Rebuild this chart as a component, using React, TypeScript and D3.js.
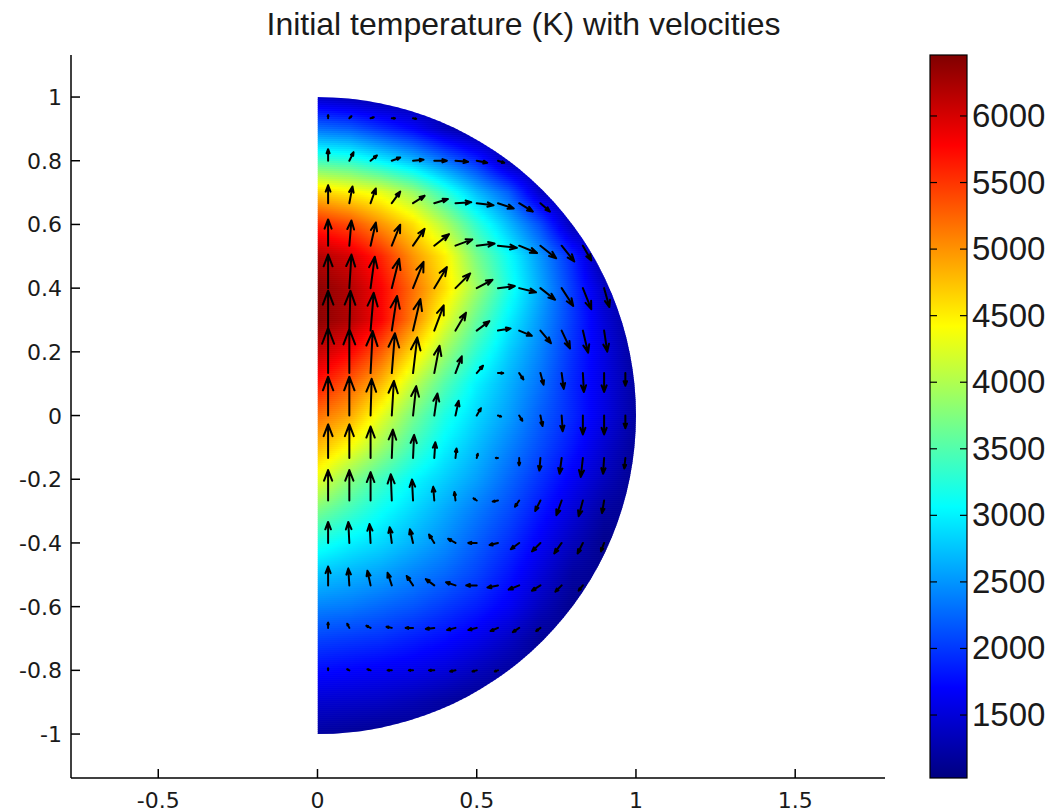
import React from 'react';
import * as d3 from 'd3';

const W = 1063;
const H = 812;

const titleText = 'Initial temperature (K) with velocities';
const xTicks = [-0.5, 0, 0.5, 1, 1.5];
const yTicks = [-1, -0.8, -0.6, -0.4, -0.2, 0, 0.2, 0.4, 0.6, 0.8, 1];
const cbTicks = [1500, 2000, 2500, 3000, 3500, 4000, 4500, 5000, 5500, 6000];
const colorLimits = [1027, 6458];

// Temperature (K) sampled on a cartesian grid (columns: x, rows: y)
const gridX = [0, 0.1, 0.2, 0.3, 0.4, 0.5, 0.6, 0.7, 0.8, 0.9, 1.0];
const gridY = [1.0, 0.9, 0.8, 0.7, 0.6, 0.5, 0.4, 0.3, 0.2, 0.1, 0.0, -0.1, -0.2, -0.3, -0.4, -0.5, -0.6, -0.7, -0.8, -0.9, -1.0];
const temperature = [
  [1400, 1300, 1200, 1150, 1100, 1100, 1100, 1100, 1100, 1100, 1100],
  [2300, 2200, 1950, 1700, 1350, 1100, 1100, 1100, 1100, 1100, 1100],
  [3400, 3300, 3000, 2700, 2300, 1900, 1300, 1100, 1100, 1100, 1100],
  [4700, 4500, 4300, 3900, 3300, 2700, 2200, 1400, 1100, 1100, 1100],
  [5600, 5400, 5000, 4600, 4000, 3300, 2700, 2100, 1300, 1100, 1100],
  [6200, 6000, 5600, 5000, 4500, 3700, 3100, 2500, 1900, 1150, 1100],
  [6400, 6200, 5800, 5200, 4600, 3900, 3200, 2600, 2000, 1400, 1100],
  [6400, 6200, 5800, 5100, 4300, 3600, 3000, 2500, 2000, 1500, 1100],
  [6100, 5800, 5300, 4600, 3900, 3300, 2800, 2400, 1950, 1550, 1150],
  [5700, 5300, 4800, 4100, 3500, 3000, 2650, 2300, 1900, 1550, 1200],
  [5200, 4900, 4300, 3700, 3200, 2850, 2550, 2200, 1900, 1550, 1200],
  [4800, 4400, 3900, 3400, 3000, 2700, 2400, 2100, 1800, 1450, 1150],
  [4300, 3800, 3400, 3050, 2800, 2550, 2250, 1950, 1650, 1350, 1100],
  [3700, 3400, 3100, 2850, 2600, 2350, 2100, 1800, 1500, 1200, 1100],
  [3200, 3000, 2850, 2650, 2450, 2200, 1950, 1650, 1350, 1100, 1100],
  [2750, 2650, 2550, 2400, 2250, 2050, 1800, 1500, 1200, 1100, 1100],
  [2400, 2350, 2250, 2150, 2000, 1850, 1650, 1350, 1100, 1100, 1100],
  [2050, 2000, 1950, 1850, 1750, 1600, 1400, 1150, 1100, 1100, 1100],
  [1750, 1700, 1650, 1600, 1500, 1350, 1200, 1100, 1100, 1100, 1100],
  [1450, 1420, 1380, 1300, 1200, 1100, 1100, 1100, 1100, 1100, 1100],
  [1200, 1150, 1100, 1100, 1100, 1100, 1100, 1100, 1100, 1100, 1100],
];

// Quiver sample positions
const arrowX = [0.0333, 0.1, 0.1667, 0.2333, 0.3, 0.3667, 0.4333, 0.5, 0.5667, 0.6333, 0.7, 0.7667, 0.8333, 0.9, 0.9667];
const arrowY = [0.9333, 0.8, 0.6667, 0.5333, 0.4, 0.2667, 0.1333, 0, -0.1333, -0.2667, -0.4, -0.5333, -0.6667, -0.8];
// Velocity [u, v] per row (arbitrary units), starting at the first column
const velocity = [
  [[0, 3], [2, 2], [3, 1], [3, 0], [3, -0.5]],
  [[0, 11], [4, 8], [6, 5], [8, 3], [10, 1], [12, 0], [12, -1], [10, -2], [6, -2]],
  [[0, 17], [3, 16], [5, 14], [8, 11], [11, 7], [13, 4], [15, 1], [16, -2], [15, -5], [13, -8], [9, -8]],
  [[0, 25], [2, 24], [5, 22], [8, 20], [11, 16], [14, 11], [16, 6], [17, 2], [18, -2], [17, -7], [15, -12], [12, -15], [8, -14]],
  [[0, 32], [2, 32], [4, 30], [7, 28], [10, 25], [12, 20], [14, 14], [15, 8], [16, 2], [16, -4], [14, -11], [11, -17], [8, -20], [5, -18]],
  [[0, 38], [1, 38], [3, 36], [5, 33], [7, 30], [9, 24], [10, 17], [12, 9], [12, 2], [12, -5], [10, -12], [8, -17], [5, -21], [3, -20]],
  [[0, 43], [0, 42], [2, 40], [3, 38], [4, 34], [5, 26], [6, 16], [6, 7], [5, 0], [4, -6], [3, -11], [2, -15], [1, -18], [0, -18], [0, -12]],
  [[0, 37], [0, 37], [1, 35], [2, 33], [3, 28], [3, 21], [3, 14], [4, 7], [3, -1], [3, -5], [2, -10], [1, -15], [0, -18], [0, -18], [0, -12]],
  [[0, 32], [0, 32], [0, 30], [1, 27], [1, 22], [1, 15], [1, 9], [1, 4], [-2, 0], [0, -7], [-1, -12], [-2, -15], [-2, -18], [-1, -15], [-1, -10]],
  [[0, 29], [0, 29], [0, 27], [-1, 25], [-1, 20], [-1, 13], [-1, 8], [-3, 2], [-5, -1], [-4, -6], [-5, -10], [-5, -14], [-4, -15], [-2, -12]],
  [[0, 20], [-1, 20], [-1, 18], [-2, 15], [-3, 13], [-5, 8], [-7, 4], [-8, 0], [-8, -2], [-8, -6], [-8, -8], [-7, -10], [-5, -10], [-3, -8]],
  [[0, 18], [-1, 16], [-3, 14], [-4, 12], [-6, 9], [-8, 6], [-9, 3], [-10, 0], [-10, -2], [-10, -4], [-8, -5], [-6, -6], [-4, -5]],
  [[0, 5], [-2, 4], [-4, 2], [-5, 1], [-7, 0], [-8, -1], [-8, -2], [-8, -2], [-7, -3], [-6, -4], [-4, -3]],
  [[0, 2], [-2, 1], [-3, 1], [-4, 0], [-4, 0], [-5, 0], [-5, -1], [-4, -1], [-3, -1]],
];

const clamp01 = (v: number) => Math.max(0, Math.min(1, v));
function jet(t: number): string {
  const tt = clamp01(t);
  const r = clamp01(1.5 - Math.abs(4 * tt - 3));
  const g = clamp01(1.5 - Math.abs(4 * tt - 2));
  const b = clamp01(1.5 - Math.abs(4 * tt - 1));
  return d3.rgb(r * 255, g * 255, b * 255).formatHex();
}

const xScale = d3.scaleLinear().domain([-0.774, 1.782]).range([71, 885]);
const yScale = d3.scaleLinear().domain([-1.138, 1.132]).range([778, 55]);
const cbScale = d3.scaleLinear().domain(colorLimits).range([778, 55]);
const colorNorm = d3.scaleLinear().domain(colorLimits).range([0, 1]);
const colIndex = d3.scaleLinear().domain([gridX[0], gridX[gridX.length - 1]]).range([0, gridX.length - 1]);
const rowIndex = d3.scaleLinear().domain([gridY[0], gridY[gridY.length - 1]]).range([0, gridY.length - 1]);

function tempAt(x: number, y: number): number {
  const fi = Math.max(0, Math.min(gridX.length - 1.0001, colIndex(x)));
  const fj = Math.max(0, Math.min(gridY.length - 1.0001, rowIndex(y)));
  const i = Math.floor(fi), j = Math.floor(fj);
  const a = fi - i, b = fj - j;
  const t00 = temperature[j][i], t10 = temperature[j][i + 1];
  const t01 = temperature[j + 1][i], t11 = temperature[j + 1][i + 1];
  return (t00 * (1 - a) + t10 * a) * (1 - b) + (t01 * (1 - a) + t11 * a) * b;
}

export default function App() {
  const x0 = xScale(0);
  const x1 = xScale(1);
  const yTop = yScale(1);
  const yBot = yScale(-1);
  const R = x1 - x0;
  const diskPath = `M${x0},${yTop} A${R},${R} 0 0 1 ${x0},${yBot} Z`;

  const rowH = 2;
  const rows: { py: number; id: string; stops: { off: number; c: string }[] }[] = [];
  const nStops = 50;
  let k = 0;
  for (let py = yTop; py < yBot; py += rowH) {
    const yv = yScale.invert(py + rowH / 2);
    const stops = [];
    for (let s = 0; s <= nStops; s++) {
      const xv = s / nStops;
      stops.push({ off: xv, c: jet(colorNorm(tempAt(xv, yv))) });
    }
    rows.push({ py, id: `row${k++}`, stops });
  }

  const arrows: string[] = [];
  const alpha = 0.35, beta = 0.38;
  const pxPerUnit = 1.05;
  velocity.forEach((row, ri) => {
    row.forEach(([u, v], ci) => {
      const tx = xScale(arrowX[ci]);
      const ty = yScale(arrowY[ri]);
      const dx = u * pxPerUnit;
      const dy = -v * pxPerUnit;
      const hx = tx + dx, hy = ty + dy;
      const h1x = hx - alpha * (dx + beta * dy), h1y = hy - alpha * (dy - beta * dx);
      const h2x = hx - alpha * (dx - beta * dy), h2y = hy - alpha * (dy + beta * dx);
      arrows.push(`M${tx},${ty}L${hx},${hy}M${h1x},${h1y}L${hx},${hy}L${h2x},${h2y}`);
    });
  });

  const cbLeft = 930, cbRight = 967;
  const cbStops = [0, 0.125, 0.375, 0.625, 0.875, 1];
  const axisFont = "'DejaVu Sans', sans-serif";
  const textColor = '#1a1a1a';

  return (
    <svg width={W} height={H} style={{ position: 'absolute', left: 0, top: 0, background: '#fff' }}>
      <defs>
        <clipPath id="disk">
          <path d={diskPath} />
        </clipPath>
        {rows.map((r) => (
          <linearGradient key={r.id} id={r.id} gradientUnits="userSpaceOnUse" x1={x0} y1={0} x2={x1} y2={0}>
            {r.stops.map((s, i) => (
              <stop key={i} offset={s.off} stopColor={s.c} />
            ))}
          </linearGradient>
        ))}
        <linearGradient id="cbgrad" x1="0" y1="1" x2="0" y2="0">
          {cbStops.map((t, i) => (
            <stop key={i} offset={t} stopColor={jet(t)} />
          ))}
        </linearGradient>
      </defs>
      <rect x={0} y={0} width={W} height={H} fill="#fff" />

      <g clipPath="url(#disk)">
        {rows.map((r) => (
          <rect key={r.id} x={x0} y={r.py} width={R + 1} height={rowH + 0.6} fill={`url(#${r.id})`} />
        ))}
      </g>

      <path d={arrows.join('')} fill="none" stroke="#000" strokeWidth={2} strokeLinecap="round" strokeLinejoin="round" />

      {/* axes */}
      <g stroke="#000" strokeWidth={1.5} fill="none">
        <line x1={71} y1={55} x2={71} y2={778} />
        <line x1={71} y1={778} x2={885} y2={778} />
        {yTicks.map((t) => (
          <line key={`yt${t}`} x1={71} x2={80} y1={yScale(t)} y2={yScale(t)} />
        ))}
        {xTicks.map((t) => (
          <line key={`xt${t}`} x1={xScale(t)} x2={xScale(t)} y1={778} y2={769} />
        ))}
      </g>
      <g fontFamily={axisFont} fontSize={22} fill={textColor}>
        {yTicks.map((t) => (
          <text key={`yl${t}`} x={62} y={yScale(t) + 8} textAnchor="end">{String(t)}</text>
        ))}
        {xTicks.map((t) => (
          <text key={`xl${t}`} x={xScale(t)} y={808} textAnchor="middle">{String(t)}</text>
        ))}
      </g>

      <text x={523.5} y={35} textAnchor="middle" fontFamily="'Liberation Sans', Arial, sans-serif" fontSize={32} fill={textColor}>
        {titleText}
      </text>

      {/* colorbar */}
      <rect x={cbLeft} y={55} width={cbRight - cbLeft} height={723} fill="url(#cbgrad)" stroke="#000" strokeWidth={1.2} />
      <g stroke="#000" strokeWidth={1.2}>
        {cbTicks.map((t) => (
          <g key={`cb${t}`}>
            <line x1={cbLeft} x2={cbLeft + 7} y1={cbScale(t)} y2={cbScale(t)} />
            <line x1={cbRight - 7} x2={cbRight} y1={cbScale(t)} y2={cbScale(t)} />
          </g>
        ))}
      </g>
      <g fontFamily="'Liberation Sans', Arial, sans-serif" fontSize={33} fill={textColor}>
        {cbTicks.map((t) => (
          <text key={`cbl${t}`} x={972} y={cbScale(t) + 11}>{String(t)}</text>
        ))}
      </g>
    </svg>
  );
}
